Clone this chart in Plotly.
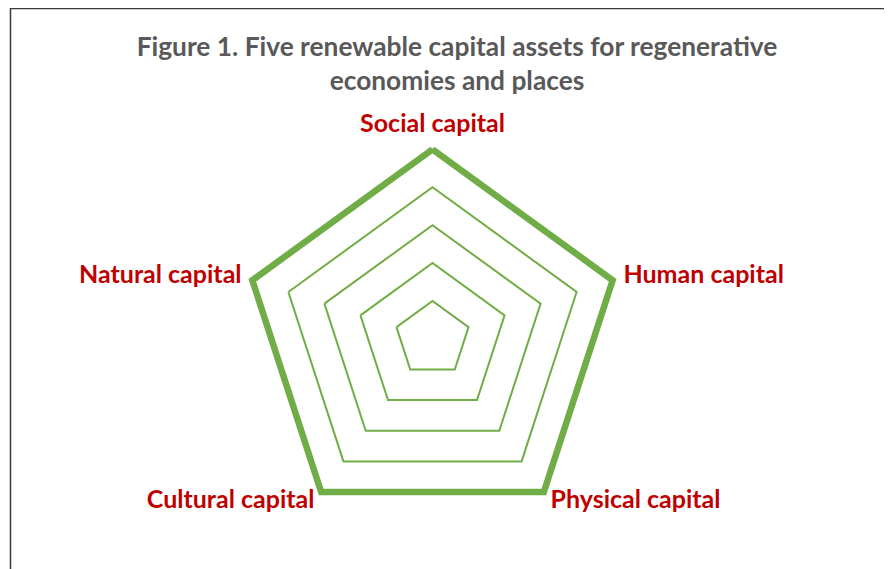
import plotly.graph_objects as go

categories = ["Social capital", "Human capital", "Physical capital", "Cultural capital", "Natural capital"]
values = [5, 5, 5, 5, 5]
grid_levels = [1, 2, 3, 4, 5]
label_positions = ["top center", "middle right", "middle right", "middle left", "middle left"]

W, H = 892, 569
cx, cy, R = 424.5, 330.8, 200.8
r_max = 5.3

green = "#70AD47"
red = "#C00000"

fig = go.Figure()
fig.add_trace(go.Scatterpolar(
    r=values + values[:1],
    theta=categories + categories[:1],
    mode="lines",
    line=dict(color=green, width=6.5),
    cliponaxis=False,
    hoverinfo="skip",
    showlegend=False,
))
fig.add_trace(go.Scatterpolar(
    r=[r_max] * len(categories),
    theta=categories,
    mode="text",
    text=categories,
    textposition=label_positions,
    textfont=dict(family="Lato, Open Sans, sans-serif", size=25, color=red, weight="bold"),
    cliponaxis=False,
    hoverinfo="skip",
    showlegend=False,
))

fig.update_layout(
    width=W, height=H,
    margin=dict(l=0, r=0, t=0, b=0),
    paper_bgcolor="white",
    plot_bgcolor="white",
    title=dict(
        text="<b>Figure 1. Five renewable capital assets for regenerative<br>economies and places</b>",
        x=449 / W, xanchor="center",
        y=1 - 48 / H, yanchor="top", yref="container",
        font=dict(family="Lato, Open Sans, sans-serif", size=26.3, color="#595959"),
    ),
    polar=dict(
        domain=dict(x=[(cx - R) / W, (cx + R) / W], y=[(H - cy - R) / H, (H - cy + R) / H]),
        gridshape="linear",
        bgcolor="white",
        radialaxis=dict(
            range=[0, r_max], tickvals=grid_levels, showticklabels=False, ticks="",
            showline=False, gridcolor=green, gridwidth=1.5,
        ),
        angularaxis=dict(
            rotation=90, direction="clockwise",
            showgrid=False, showline=False, ticks="", showticklabels=False,
        ),
    ),
    shapes=[dict(
        type="rect", xref="paper", yref="paper",
        x0=2.5 / W, x1=1.2, y0=-0.2, y1=1 - 0.5 / H,
        line=dict(color="#3a3a3a", width=1.5),
    )],
)

fig.write_html("out.html")
